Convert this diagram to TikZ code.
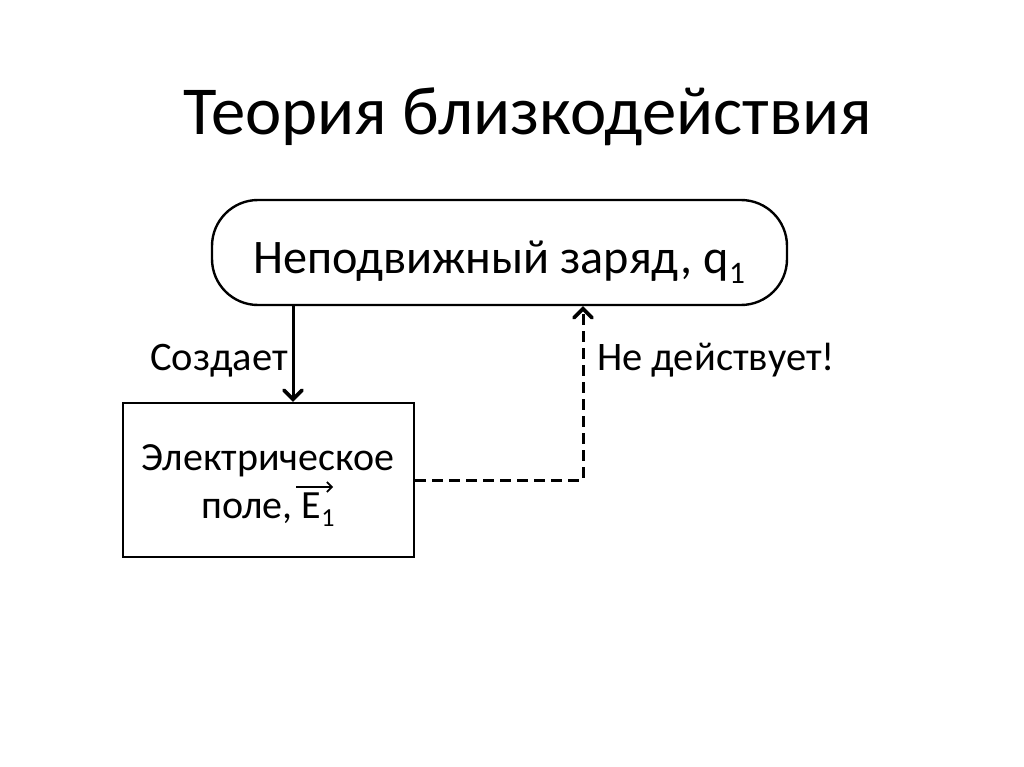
\documentclass[tikz,border=0pt]{standalone}
\usepackage{fontspec}
\setmainfont{Carlito}
\usetikzlibrary{arrows.meta,calc}
\tikzset{
  boxline/.style={draw=black, line width=2.4pt, fill=white},
  conn/.style={line width=3pt, -{Straight Barb[length=9pt,width=18pt,line width=3.6pt,line cap=round]}},
  dashconn/.style={conn, dash pattern=on 11pt off 6pt},
  vecarrow/.style={line width=1.6pt, -{Straight Barb[length=5pt,width=10pt]}},
  lbl/.style={font=\fontsize{40.5}{44}\selectfont, inner sep=0pt},
  txt/.style={inner sep=0pt},
}
\newcommand{\lowsub}[1]{\raisebox{-0.22em}{\fontsize{0.65em}{0.7em}\selectfont #1}}
\begin{document}
\begin{tikzpicture}[x=1pt,y=-1pt]
\useasboundingbox (0,0) rectangle (1024,767);
\fill[white] (0,0) rectangle (1024,767);
\node[txt, anchor=base, font=\fontsize{68.7}{72}\selectfont] (title) at (528,135) {Теория близкодействия};
\node[boxline, rounded corners=46pt, minimum width=575pt, minimum height=105pt, inner sep=0pt] (top) at (499.5,252.5) {};
\node[txt, anchor=base, font=\fontsize{48.2}{52}\selectfont] (toptext) at (499,273) {Неподвижный заряд, q\lowsub{1}};
\node[boxline, minimum width=291pt, minimum height=154pt, inner sep=0pt] (box) at (268.5,480) {};
\node[txt, anchor=base, font=\fontsize{40}{48}\selectfont] (boxt1) at (268,470) {Электрическое};
\node[txt, anchor=base, font=\fontsize{40}{48}\selectfont] (boxt2) at (268,518) {поле, E\lowsub{1}};
\draw[vecarrow] ($(boxt2.base)+(28,-31)$) coordinate (va) -- ($(va)+(37,0)$);
\coordinate (c1) at (293,400);
\coordinate (c2) at (583,400);
\draw[conn] (top.south -| c1) -- (box.north -| c1);
\draw[dashconn] (box.east) -| (top.south -| c2);
\node[lbl, anchor=base east] (l1) at (288,370) {Создает};
\node[lbl, anchor=base west] (l2) at (597,370) {Не действует!};
\end{tikzpicture}
\end{document}
